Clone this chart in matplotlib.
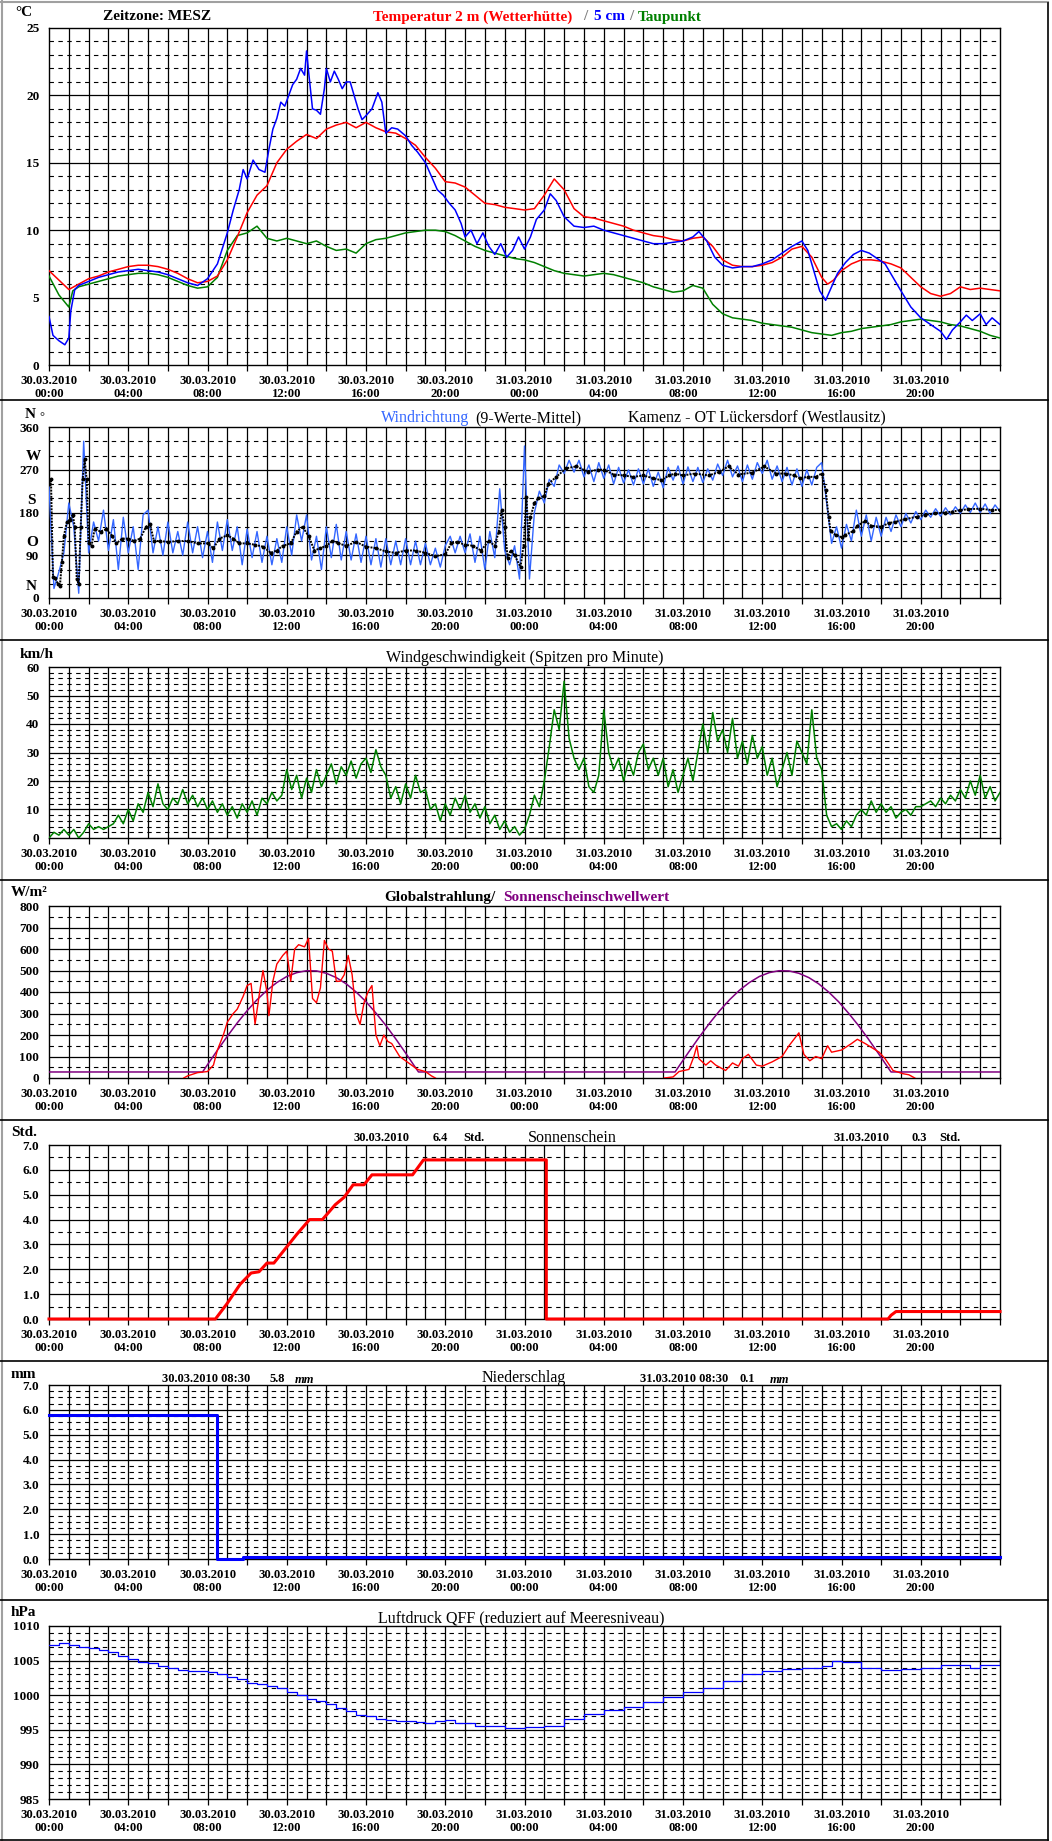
import matplotlib
matplotlib.use('Agg')
import matplotlib.pyplot as plt
from matplotlib.lines import Line2D
import numpy as np

# ---------------- DATA ----------------
XTICK_LABELS = ["30.03.2010\n00:00", "30.03.2010\n04:00", "30.03.2010\n08:00", "30.03.2010\n12:00",
                "30.03.2010\n16:00", "30.03.2010\n20:00", "31.03.2010\n00:00", "31.03.2010\n04:00",
                "31.03.2010\n08:00", "31.03.2010\n12:00", "31.03.2010\n16:00", "31.03.2010\n20:00"]

# Temperature 2 m (hours since 30.03.2010 00:00)
t2m_h = [0.0, 0.5, 1.0, 1.5, 2.0, 2.5, 3.0, 3.5, 4.0, 4.5, 5.0, 5.5, 6.0, 6.5, 7.0, 7.5, 8.0, 8.5, 9.0, 9.5,
         10.0, 10.5, 11.0, 11.5, 12.0, 12.5, 13.0, 13.5, 14.0, 14.5, 15.0, 15.5, 16.0, 16.5, 17.0, 17.5, 18.0,
         18.5, 19.0, 19.5, 20.0, 20.5, 21.0, 21.5, 22.0, 22.5, 23.0, 23.5, 24.0, 24.5, 25.0, 25.5, 26.0, 26.5,
         27.0, 27.5, 28.0, 28.5, 29.0, 29.5, 30.0, 30.5, 31.0, 31.5, 32.0, 32.5, 33.0, 33.5, 34.0, 34.5, 35.0,
         35.5, 36.0, 36.5, 37.0, 37.5, 38.0, 38.5, 39.0, 39.3, 39.6, 40.0, 40.5, 41.0, 41.5, 42.0, 42.5, 43.0,
         43.5, 44.0, 44.5, 45.0, 45.5, 46.0, 46.5, 47.0, 47.5, 48.0]
t2m_v = [7.0, 6.3, 5.6, 6.0, 6.4, 6.6, 6.9, 7.1, 7.3, 7.4, 7.4, 7.3, 7.1, 6.8, 6.4, 6.1, 6.2, 6.6, 7.8, 9.5,
         11.3, 12.6, 13.3, 15.0, 16.0, 16.6, 17.1, 16.8, 17.5, 17.8, 18.0, 17.6, 18.0, 17.6, 17.3, 17.2, 16.8,
         16.3, 15.4, 14.6, 13.6, 13.5, 13.2, 12.6, 12.0, 11.9, 11.7, 11.6, 11.5, 11.6, 12.6, 13.8, 13.0, 11.6,
         11.0, 10.9, 10.7, 10.5, 10.3, 10.0, 9.8, 9.6, 9.5, 9.3, 9.2, 9.4, 9.5, 8.8, 7.8, 7.4, 7.3,
         7.3, 7.4, 7.6, 8.0, 8.6, 8.8, 8.0, 6.5, 6.0, 6.3, 7.0, 7.5, 7.8, 7.8, 7.7, 7.5, 7.2,
         6.5, 5.8, 5.3, 5.1, 5.3, 5.8, 5.6, 5.7, 5.6, 5.5]

# Temperature 5 cm
t5_h = [0.0, 0.2, 0.5, 0.8, 1.0, 1.1, 1.3, 1.5, 2.0, 2.5, 3.0, 3.5, 4.0, 4.5, 5.0, 5.5, 6.0, 6.5, 7.0, 7.5,
        8.0, 8.5, 9.0, 9.3, 9.6, 9.8, 10.0, 10.3, 10.6, 10.9, 11.1, 11.3, 11.5, 11.7, 11.9, 12.1, 12.3, 12.5,
        12.7, 12.9, 13.0, 13.1, 13.3, 13.5, 13.7, 13.9, 14.0, 14.2, 14.4, 14.6, 14.8, 15.0, 15.2, 15.4, 15.6,
        15.8, 16.0, 16.3, 16.6, 16.8, 17.0, 17.3, 17.6, 18.0, 18.3, 18.6, 19.0, 19.3, 19.6, 19.9, 20.2, 20.5,
        20.8, 21.0, 21.3, 21.6, 21.9, 22.2, 22.5, 22.8, 23.1, 23.4, 23.7, 24.0, 24.3, 24.6, 25.0, 25.3, 25.6,
        26.0, 26.5, 27.0, 27.5, 28.0, 28.5, 29.0, 29.5, 30.0, 30.5, 31.0, 31.5, 32.0, 32.5, 32.8, 33.2, 33.6,
        34.0, 34.5, 35.0, 35.5, 36.0, 36.5, 37.0, 37.5, 38.0, 38.3, 38.6, 38.9, 39.2, 39.5, 39.8, 40.2, 40.6,
        41.0, 41.4, 41.8, 42.2, 42.6, 43.0, 43.5, 44.0, 44.5, 45.0, 45.3, 45.6, 46.0, 46.3, 46.6, 47.0, 47.3,
        47.6, 48.0]
t5_v = [3.6, 2.2, 1.8, 1.5, 2.0, 4.0, 5.6, 5.9, 6.2, 6.5, 6.7, 6.9, 7.0, 7.1, 7.0, 6.9, 6.7, 6.4, 6.1, 5.9,
        6.4, 7.5, 9.8, 11.5, 13.0, 14.5, 13.8, 15.2, 14.5, 14.3, 16.0, 17.5, 18.3, 19.5, 19.2, 20.0, 20.8, 21.2,
        22.0, 21.5, 23.3, 21.8, 19.0, 18.9, 18.6, 20.5, 22.0, 21.0, 21.8, 21.2, 20.5, 21.0, 21.0, 20.0, 19.0,
        18.2, 18.5, 19.0, 20.2, 19.5, 17.2, 17.6, 17.5, 17.0, 16.3, 15.8, 15.0, 14.0, 13.0, 12.6, 12.0, 11.5,
        10.5, 9.5, 10.0, 9.0, 9.8, 8.8, 8.2, 9.0, 8.0, 8.5, 9.5, 8.6, 9.5, 10.8, 11.5, 12.7, 12.2,
        11.0, 10.3, 10.2, 10.3, 10.0, 9.8, 9.6, 9.4, 9.2, 9.0, 9.0, 9.1, 9.2, 9.5, 9.9, 9.2, 8.0,
        7.4, 7.2, 7.3, 7.3, 7.5, 7.8, 8.3, 8.8, 9.2, 8.5, 7.0, 5.5, 4.8, 5.8, 6.8, 7.6, 8.2,
        8.5, 8.3, 7.9, 7.5, 6.5, 5.5, 4.3, 3.5, 3.0, 2.5, 1.9, 2.6, 3.2, 3.7, 3.3, 3.8, 3.0,
        3.5, 3.0]

# Dew point
td_h = [0.0, 0.5, 1.0, 1.2, 1.5, 2.0, 2.5, 3.0, 3.5, 4.0, 4.5, 5.0, 5.5, 6.0, 6.5, 7.0, 7.5, 8.0, 8.5, 9.0,
        9.5, 10.0, 10.5, 11.0, 11.5, 12.0, 12.5, 13.0, 13.5, 14.0, 14.5, 15.0, 15.5, 16.0, 16.5, 17.0, 17.5,
        18.0, 18.5, 19.0, 19.5, 20.0, 20.5, 21.0, 21.5, 22.0, 22.5, 23.0, 23.5, 24.0, 24.5, 25.0, 25.5, 26.0,
        26.5, 27.0, 27.5, 28.0, 28.5, 29.0, 29.5, 30.0, 30.5, 31.0, 31.5, 32.0, 32.5, 33.0, 33.5, 34.0, 34.5,
        35.0, 35.5, 36.0, 36.5, 37.0, 37.5, 38.0, 38.5, 39.0, 39.5, 40.0, 40.5, 41.0, 41.5, 42.0, 42.5, 43.0,
        43.5, 44.0, 44.5, 45.0, 45.5, 46.0, 46.5, 47.0, 47.5, 48.0]
td_v = [6.6, 5.2, 4.3, 5.5, 5.8, 6.0, 6.2, 6.4, 6.6, 6.7, 6.8, 6.8, 6.7, 6.5, 6.2, 5.9, 5.7, 5.8, 6.5, 8.5,
        9.6, 9.8, 10.3, 9.4, 9.2, 9.4, 9.2, 9.0, 9.2, 8.8, 8.5, 8.6, 8.3, 9.0, 9.3, 9.4, 9.6,
        9.8, 9.9, 10.0, 10.0, 9.9, 9.6, 9.2, 8.8, 8.5, 8.3, 8.1, 7.9, 7.8, 7.6, 7.3, 7.0, 6.8,
        6.7, 6.6, 6.7, 6.8, 6.7, 6.5, 6.3, 6.1, 5.8, 5.6, 5.4, 5.5, 5.9, 5.7, 4.5, 3.8, 3.5,
        3.4, 3.3, 3.1, 3.0, 2.9, 2.8, 2.6, 2.4, 2.3, 2.2, 2.4, 2.5, 2.7, 2.8, 2.9, 3.0, 3.2,
        3.3, 3.4, 3.3, 3.2, 3.0, 2.9, 2.7, 2.5, 2.2, 2.0]

# Wind direction: 9-value mean
wdm_h = [0.0, 0.1, 0.2, 0.3, 0.45, 0.55, 0.65, 0.75, 0.9, 1.05, 1.2, 1.3, 1.4, 1.5, 1.6, 1.7, 1.8, 1.9, 2.0,
         2.15, 2.3, 2.6, 2.9, 3.2, 3.4, 3.7, 4.0, 4.3, 4.6, 4.9, 5.1, 5.3, 5.6, 6.0, 6.5, 7.0, 7.5, 8.0, 8.3,
         8.6, 9.0, 9.3, 9.6, 10.0, 10.4, 10.8, 11.2, 11.5, 11.8, 12.2, 12.5, 12.8, 13.1, 13.4, 13.7, 14.0,
         14.3, 14.6, 15.0, 15.5, 16.0, 16.5, 17.0, 17.5, 18.0, 18.5, 19.0, 19.5, 20.0, 20.3, 20.6, 21.0, 21.4,
         21.8, 22.2, 22.5, 22.7, 22.85, 23.0, 23.15, 23.3, 23.5, 23.8, 23.95, 24.1, 24.2, 24.3, 24.5, 24.7,
         25.0, 25.2, 25.6, 26.1, 26.6, 27.2, 27.7, 28.0, 28.5, 29.0, 29.5, 30.0, 30.5, 30.9, 31.3, 31.6, 32.0,
         32.6, 33.3, 33.8, 34.3, 34.8, 35.5, 36.1, 36.7, 37.2, 37.6, 37.9, 38.3, 38.7, 39.0, 39.2, 39.35,
         39.45, 39.7, 40.0, 40.2, 40.6, 40.8, 41.2, 41.5, 42.0, 42.4, 42.7, 43.2, 43.8, 44.2, 44.7, 45.2, 45.6,
         46.0, 46.4, 47.0, 47.6, 48.0]
wdm_v = [240, 250, 45, 42, 30, 25, 75, 130, 160, 165, 175, 150, 40, 30, 150, 250, 292, 250, 115,
         110, 145, 140, 145, 130, 115, 125, 125, 120, 125, 150, 155, 120, 120, 118, 120, 120, 115, 115, 105,
         125, 132, 125, 115, 115, 112, 108, 95, 100, 110, 115, 140, 150, 130, 100, 105, 110,
         120, 115, 110, 118, 108, 105, 98, 95, 100, 100, 95, 88, 92, 115, 118, 112, 110,
         100, 120, 110, 140, 185, 150, 85, 100, 90, 65, 110, 213, 125, 170, 200, 210,
         215, 240, 255, 273, 277, 266, 270, 270, 260, 258, 255, 258, 252, 248, 258, 262, 258,
         262, 258, 265, 277, 260, 264, 277, 262, 262, 258, 252, 255, 255, 262, 228, 170,
         141, 133, 128, 133, 141, 152, 162, 152, 150, 158, 160, 166, 171, 175, 178, 180, 182,
         185, 187, 188, 185, 186]

# Wind direction raw, every 15 min
wdr_v = [235, 20, 55, 95, 200, 150, 10, 330, 95, 160, 120, 185, 100, 165, 60, 170,
         95, 150, 60, 175, 185, 95, 150, 90, 160, 95, 140, 90, 160, 95, 150, 85,
         140, 75, 160, 100, 165, 100, 150, 70, 145, 85, 140, 75, 130, 70, 125, 75,
         150, 90, 175, 120, 175, 80, 130, 60, 150, 85, 155, 80, 140, 80, 135, 75,
         130, 70, 125, 65, 125, 70, 120, 70, 125, 70, 120, 70, 115, 70, 105, 65,
         110, 130, 95, 130, 95, 135, 75, 130, 60, 140, 85, 230, 100, 70, 110, 40,
         320, 40, 180, 225, 200, 250, 235, 280, 262, 290, 265, 290, 255, 280, 245, 285,
         252, 280, 240, 275, 242, 270, 238, 272, 240, 272, 235, 265, 232, 275, 248, 278,
         240, 276, 245, 275, 243, 272, 248, 282, 258, 290, 255, 278, 245, 280, 250, 285,
         262, 290, 250, 278, 245, 275, 238, 272, 235, 270, 238, 275, 285, 200, 115, 150,
         105, 155, 120, 185, 130, 175, 120, 170, 130, 170, 140, 175, 150, 178, 158, 182,
         165, 185, 170, 188, 172, 190, 175, 192, 178, 196, 180, 200, 180, 198, 178, 196,
         182]

# Wind speed (peaks per minute), every 15 min
ws_v = [0, 2, 1, 3, 1, 3, 0, 2, 5, 3, 4, 3, 4, 5, 8, 5,
        10, 6, 12, 9, 16, 11, 19, 12, 10, 14, 12, 17, 12, 15, 11, 14,
        10, 13, 9, 12, 8, 11, 7, 12, 9, 13, 8, 14, 12, 16, 13, 15,
        24, 17, 22, 14, 21, 16, 24, 18, 22, 26, 19, 25, 22, 27, 21, 26,
        28, 23, 31, 25, 22, 14, 18, 12, 19, 14, 22, 16, 17, 10, 12, 6,
        12, 8, 14, 10, 15, 9, 12, 7, 11, 5, 8, 3, 6, 2, 4, 1,
        3, 8, 15, 11, 20, 32, 45, 38, 55, 35, 28, 24, 28, 18, 16, 22,
        45, 30, 24, 28, 20, 27, 22, 30, 33, 24, 28, 22, 28, 18, 24, 16,
        22, 28, 20, 30, 40, 30, 44, 34, 38, 30, 42, 28, 34, 26, 36, 28,
        32, 22, 28, 18, 24, 30, 22, 34, 30, 26, 45, 28, 24, 8, 4, 5,
        3, 6, 4, 8, 10, 8, 13, 9, 12, 9, 11, 7, 9, 10, 8, 11,
        11, 12, 13, 11, 14, 12, 15, 13, 17, 14, 20, 15, 22, 14, 18, 13,
        16]

# Global radiation (W/m2)
gr1_h = [6.8, 7.0, 7.5, 8.0, 8.3, 8.5, 8.8, 9.0, 9.3, 9.5, 9.8, 10.0, 10.2, 10.4, 10.6, 10.8, 11.0, 11.1,
         11.3, 11.5, 11.8, 12.0, 12.2, 12.4, 12.6, 12.9, 13.1, 13.3, 13.5, 13.7, 13.9, 14.1, 14.3, 14.5, 14.7,
         14.9, 15.1, 15.3, 15.5, 15.7, 15.9, 16.1, 16.3, 16.5, 16.7, 16.9, 17.1, 17.3, 17.5, 17.7, 18.0, 18.3,
         18.6, 19.0, 19.3, 19.5]
gr1_v = [0, 10, 25, 30, 60, 130, 200, 260, 300, 320, 380, 430, 440, 250, 380, 500, 400, 290,
         450, 530, 570, 590, 450, 600, 620, 610, 650, 370, 350, 420, 640, 600, 590, 450, 450,
         480, 570, 480, 300, 250, 350, 400, 430, 200, 150, 200, 170, 160, 130, 100, 80, 60,
         40, 30, 10, 0]
gr2_h = [31.06, 31.5, 31.8, 32.3, 32.55, 32.7, 32.8, 33.15, 33.4, 33.65, 34.15, 34.5, 34.8, 35.0, 35.3,
         35.7, 36.0, 36.5, 37.0, 37.35, 37.85, 38.1, 38.4, 38.7, 39.0, 39.3, 39.5, 40.0, 40.5, 40.8, 41.2,
         41.9, 42.2, 42.6, 43.1, 43.4, 43.7]
gr2_v = [0, 5, 30, 40, 100, 150, 90, 60, 80, 60, 35, 70, 55, 90, 110,
         60, 55, 75, 100, 150, 210, 110, 80, 100, 90, 150, 120, 130, 160, 180, 160,
         120, 90, 35, 20, 15, 0]

# Sunshine threshold (W/m2)
thr_h = [0.0, 7.75, 8.0, 8.5, 9.0, 9.5, 10.0, 10.5, 11.0, 11.5, 12.0, 12.5, 13.0, 13.5, 14.0, 14.5, 15.0,
         15.5, 16.0, 16.5, 17.0, 17.5, 18.0, 18.5, 18.65,
         31.6, 31.85, 32.35, 32.85, 33.35, 33.85, 34.35, 34.85, 35.35, 35.85, 36.35, 36.85, 37.35, 37.85,
         38.35, 38.85, 39.35, 39.85, 40.35, 40.85, 41.35, 41.85, 42.35, 42.5, 48.0]
thr_v = [28, 28, 62, 129, 194, 256, 313, 364, 408, 444, 472, 490, 499, 498, 487, 467, 438,
         400, 355, 302, 245, 182, 116, 48, 28,
         28, 62, 129, 194, 256, 313, 364, 408, 444, 472, 490, 499, 498, 487,
         467, 438, 400, 355, 302, 245, 182, 116, 48, 28, 28]

# Sunshine duration (cumulative, hours)
sun_h = [0, 8.4, 8.97, 9.65, 10.2, 10.6, 11.0, 11.35, 12.0, 12.5, 13.15, 13.8, 14.45, 14.9, 15.35, 15.9,
         16.3, 18.35, 18.9, 25.1, 25.1, 42.35, 42.5, 42.75, 48.0]
sun_v = [0, 0, 0.6, 1.4, 1.85, 1.9, 2.25, 2.25, 2.9, 3.4, 4.0, 4.0, 4.6, 4.9, 5.4, 5.4,
         5.8, 5.8, 6.4, 6.4, 0, 0, 0.15, 0.3, 0.3]

# Precipitation (cumulative since 08:30, mm)
rain_h = [0.0, 8.5, 8.5, 9.8, 9.8, 48.0]
rain_v = [5.8, 5.8, 0.0, 0.0, 0.1, 0.1]

# Pressure QFF (hPa)
p_h = [0.0, 0.5, 1.0, 1.5, 2.0, 2.5, 3.0, 3.5, 4.0, 4.5, 5.0, 5.5, 6.0, 6.5, 7.0, 7.5, 8.0, 8.5, 9.0, 9.5,
       10.0, 10.5, 11.0, 11.5, 12.0, 12.5, 13.0, 13.5, 14.0, 14.5, 15.0, 15.5, 16.0, 16.5, 17.0, 17.5, 18.0,
       18.5, 19.0, 19.5, 20.0, 20.5, 21.0, 21.5, 22.0, 22.5, 23.0, 23.5, 24.0, 25.0, 26.0, 27.0, 28.0, 29.0,
       30.0, 31.0, 32.0, 33.0, 34.0, 35.0, 36.0, 37.0, 38.0, 39.0, 39.5, 40.0, 41.0, 42.0, 43.0, 44.0, 45.0,
       46.0, 46.5, 47.0, 48.0]
p_v = [1007.3, 1007.5, 1007.2, 1007.0, 1006.8, 1006.5, 1006.2, 1005.7, 1005.2, 1004.8, 1004.6, 1004.2,
       1003.9, 1003.6, 1003.5, 1003.5, 1003.3, 1003.0, 1002.7, 1002.4, 1001.8, 1001.6, 1001.4, 1001.0,
       1000.5, 1000.0, 999.5, 999.1, 998.7, 998.2, 997.7, 997.2, 997.0, 996.6, 996.4, 996.3, 996.2,
       996.1, 996.0, 996.2, 996.4, 996.0, 996.0, 995.5, 995.6, 995.6, 995.2, 995.3, 995.4, 995.5, 996.5,
       997.3, 997.8, 998.3, 999.0, 999.7, 1000.5, 1001.0, 1002.0, 1003.0, 1003.5, 1003.8, 1004.0, 1004.2,
       1005.0, 1004.8, 1004.0, 1003.6, 1003.8, 1004.0, 1004.3, 1004.4, 1004.0, 1004.3, 1005.2]

# ---------------- FIGURE ----------------
W, H = 1052, 1841
fig = plt.figure(figsize=(W / 100, H / 100), dpi=100)
fig.patch.set_facecolor('white')
SERIF = ['Liberation Serif', 'DejaVu Serif']
X0, X1 = 49, 1000


def ftext(x, y, s, size=11, weight='bold', color='black', ha='left', style='normal'):
    fig.text(x / W, 1 - y / H, s, fontsize=size, fontweight=weight, color=color, ha=ha, va='center',
             fontfamily=SERIF, fontstyle=style)


def hline(y, color='black', lw=1.2, x0=0, x1=1048):
    fig.add_artist(Line2D([x0 / W, x1 / W], [1 - y / H, 1 - y / H], color=color, lw=lw,
                          transform=fig.transFigure))


def panel(top, bottom, ymin, ymax, major, labels, minor_step):
    ax = fig.add_axes([X0 / W, 1 - bottom / H, (X1 - X0) / W, (bottom - top) / H])
    ax.set_xlim(0, 48)
    ax.set_ylim(ymin, ymax)
    for hh in range(1, 48):
        ax.axvline(hh, color='black', lw=0.9, zorder=1)
    for v in np.arange(ymin, ymax + 1e-9, minor_step):
        if not any(abs(v - m) < 1e-6 for m in major):
            ax.axhline(v, color='black', lw=0.8, ls=(0, (4, 4)), zorder=1)
    for v in major:
        if ymin < v < ymax:
            ax.axhline(v, color='black', lw=0.9, zorder=1)
    ax.set_yticks(major)
    ax.set_yticklabels(labels, fontfamily=SERIF, fontweight='bold', fontsize=9.5)
    ax.tick_params(axis='y', length=0, pad=7)
    ticks = list(range(0, 49, 2))
    xl = []
    for i in range(len(ticks)):
        if i % 2 == 0 and i // 2 < len(XTICK_LABELS):
            xl.append(XTICK_LABELS[i // 2])
        else:
            xl.append('')
    ax.set_xticks(ticks)
    ax.set_xticklabels(xl, fontfamily=SERIF, fontweight='bold', fontsize=9.2, linespacing=1.1)
    ax.tick_params(axis='x', length=4, width=0.9, pad=3, direction='out')
    for s in ax.spines.values():
        s.set_linewidth(1.0)
    return ax


# Outer frame and separators
hline(1.5, color='#a0a0a0', lw=1.5)
fig.add_artist(Line2D([1.5 / W, 1.5 / W], [0, 1], color='#a0a0a0', lw=1.5, transform=fig.transFigure))
fig.add_artist(Line2D([1047.5 / W, 1047.5 / W], [1 - 1840 / H, 1 - 3 / H], color='black', lw=1.2,
                      transform=fig.transFigure))
for ysep in [400, 640, 880, 1120, 1361, 1600, 1839.5]:
    hline(ysep)

# ---- Panel 1: temperature
ax1 = panel(28, 365, 0, 25, [0, 5, 10, 15, 20, 25], ['0', '5', '10', '15', '20', '25'], 1)
ax1.plot(td_h, td_v, color='#008000', lw=1.1, zorder=3)
ax1.plot(t2m_h, t2m_v, color='#ff0000', lw=1.1, zorder=4)
ax1.plot(t5_h, t5_v, color='#0000ff', lw=1.1, zorder=5)
ftext(15, 13, '°C', size=11)
ftext(103, 17, 'Zeitzone: MESZ')
ftext(373, 17, 'Temperatur 2 m (Wetterhütte)', color='#ff0000')
ftext(583, 17, '/', color='#808080')
ftext(594, 17, '5 cm', color='#0000ff')
ftext(629, 17, '/', color='#808080')
ftext(638, 17, 'Taupunkt', color='#008000')

# ---- Panel 2: wind direction
ax2 = panel(427, 598, 0, 360, [0, 90, 180, 270, 360], ['0', '90', '180', '270', '360'], 30)
ax2.plot([h * 0.25 for h in range(len(wdr_v))], wdr_v, color='#3366ff', lw=1.0, zorder=3)
ax2.plot(wdm_h, wdm_v, color='black', lw=1.4, ls=(0, (1, 0.6)), marker='o', ms=1.8, zorder=4)
ftext(25, 415, 'N', size=11)
ftext(39, 417, '°', size=9, weight='normal')
ftext(26, 457, 'W', size=11)
ftext(27, 500, 'S', size=11)
ftext(26, 543, 'O', size=11)
ftext(26, 586, 'N', size=11)
ftext(381, 418, 'Windrichtung', size=11.5, weight='normal', color='#3366ff')
ftext(475, 418, '(9-Werte-Mittel)', size=11.5, weight='normal')
ftext(628, 417, 'Kamenz - OT Lückersdorf (Westlausitz)', size=11.5, weight='normal')

# ---- Panel 3: wind speed
ax3 = panel(667, 838, 0, 60, [0, 10, 20, 30, 40, 50, 60], ['0', '10', '20', '30', '40', '50', '60'], 2)
ax3.plot([h * 0.25 for h in range(len(ws_v))], ws_v, color='#008000', lw=1.1, zorder=3)
ftext(20, 654, 'km/h', size=11)
ftext(386, 658, 'Windgeschwindigkeit (Spitzen pro Minute)', size=11.5, weight='normal')

# ---- Panel 4: global radiation
ax4 = panel(906, 1078, 0, 800, [0, 100, 200, 300, 400, 500, 600, 700, 800],
            ['0', '100', '200', '300', '400', '500', '600', '700', '800'], 50)
ax4.plot(thr_h, thr_v, color='#800080', lw=1.1, zorder=3)
ax4.plot(gr1_h, gr1_v, color='#ff0000', lw=1.0, zorder=4)
ax4.plot(gr2_h, gr2_v, color='#ff0000', lw=1.0, zorder=4)
ftext(11, 893, 'W/m²', size=11)
ftext(384, 898, 'Globalstrahlung/', size=11)
ftext(503, 898, 'Sonnenscheinschwellwert', size=11, color='#800080')

# ---- Panel 5: sunshine
ax5 = panel(1145, 1319, 0, 7, [0, 1, 2, 3, 4, 5, 6, 7],
            ['0.0', '1.0', '2.0', '3.0', '4.0', '5.0', '6.0', '7.0'], 0.5)
ax5.plot(sun_h, sun_v, color='#ff0000', lw=2.2, zorder=3, clip_on=False)
ftext(11, 1133, 'Std.', size=11)
ftext(353, 1138, '30.03.2010', size=9)
ftext(433, 1138, '6.4', size=9)
ftext(463, 1138, 'Std.', size=9)
ftext(528, 1138, 'Sonnenschein', size=11.5, weight='normal')
ftext(833, 1138, '31.03.2010', size=9)
ftext(911, 1138, '0.3', size=9)
ftext(939, 1138, 'Std.', size=9)

# ---- Panel 6: precipitation
ax6 = panel(1385, 1559, 0, 7, [0, 1, 2, 3, 4, 5, 6, 7],
            ['0.0', '1.0', '2.0', '3.0', '4.0', '5.0', '6.0', '7.0'], 0.25)
ax6.plot(rain_h, rain_v, color='#0000ff', lw=2.2, zorder=3, clip_on=False)
ftext(11, 1374, 'mm', size=11)
ftext(162, 1379, '30.03.2010 08:30', size=9)
ftext(270, 1379, '5.8', size=9)
ftext(295, 1380, 'mm', size=9, style='italic')
ftext(482, 1378, 'Niederschlag', size=11.5, weight='normal')
ftext(640, 1379, '31.03.2010 08:30', size=9)
ftext(739, 1379, '0.1', size=9)
ftext(770, 1380, 'mm', size=9, style='italic')

# ---- Panel 7: pressure
ax7 = panel(1626, 1799, 985, 1010, [985, 990, 995, 1000, 1005, 1010],
            ['985', '990', '995', '1000', '1005', '1010'], 1)
ax7.plot(p_h, p_v, color='#0000ff', lw=0.9, drawstyle='steps-post', zorder=3)
ftext(11, 1613, 'hPa', size=11)
ftext(378, 1618, 'Luftdruck QFF (reduziert auf Meeresniveau)', size=11.5, weight='normal')

fig.savefig('out.png', dpi=100, facecolor='white')
